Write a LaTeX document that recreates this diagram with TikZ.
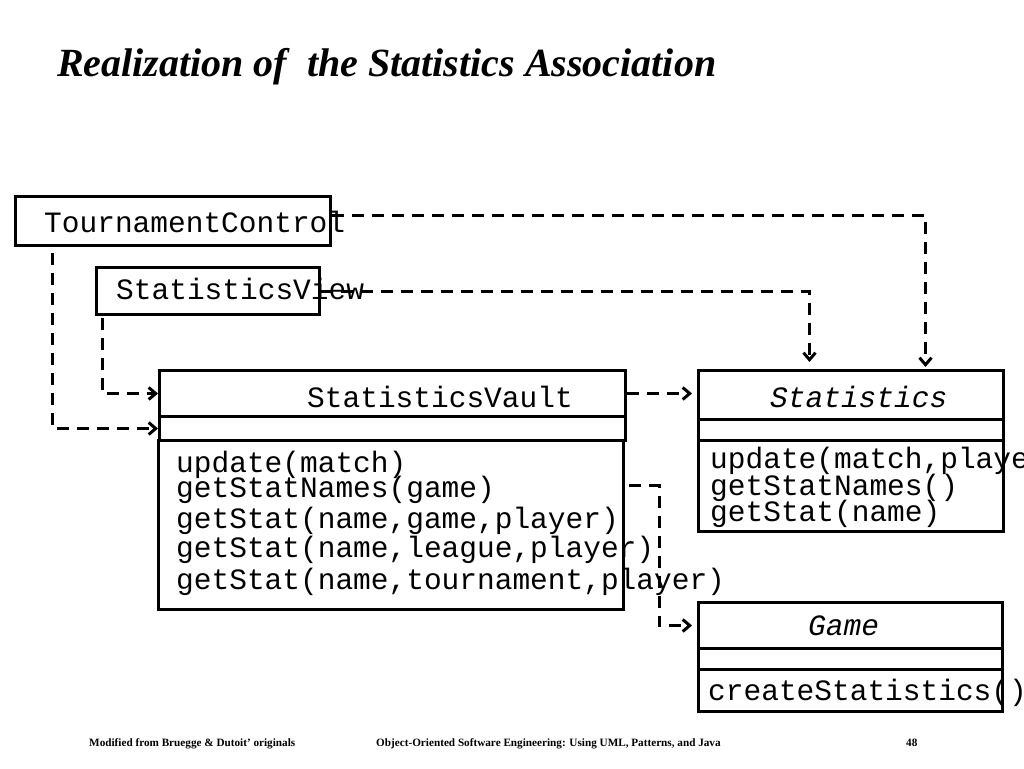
\documentclass[tikz,border=0pt]{standalone}
\usepackage{fontspec}
\usetikzlibrary{arrows.meta,calc}
\setmainfont{Liberation Serif}
\newfontfamily\monof{Liberation Mono}
\tikzset{
  cls/.style={draw=black, line width=3pt, anchor=north west, inner sep=0pt},
  mono/.style={font=\monof\fontsize{29.5}{30}\selectfont, inner sep=0pt, anchor=base west},
  monoit/.style={mono, font=\monof\itshape\fontsize{29.5}{30}\selectfont},
  dep/.style={draw=black, line width=3pt, dash pattern=on 12pt off 8pt, -{Straight Barb[length=7pt,width=12pt]}},
  foot/.style={font=\bfseries\fontsize{11.2}{13}\selectfont, inner sep=0pt, anchor=base west},
}
\begin{document}
\begin{tikzpicture}[x=1pt, y=-1pt]
  \useasboundingbox (0,0) rectangle (1024,768);
  \node[anchor=base west, inner sep=0pt, font=\fontsize{40}{44}\selectfont\bfseries\itshape] (title) at (57,77) {Realization of\ \ the Statistics Association};

  \node[cls, minimum width=315pt, minimum height=49pt] (tc) at (14,195) {};
  \node[mono] (tcL) at (44,232) {TournamentControl};
  \node[cls, minimum width=223pt, minimum height=47pt] (sv) at (95,266) {};
  \node[mono] (svL) at (116,299) {StatisticsView};

  \node[cls, minimum width=466pt, minimum height=46pt] (vault) at (158,369) {};
  \node[cls, minimum width=466pt, minimum height=24pt] (vaultA) at (158,415) {};
  \node[cls, minimum width=465pt, minimum height=169pt] (vaultO) at (157,439) {};
  \node[mono] (vaultL) at (307,407) {StatisticsVault};
  \foreach \y/\t [count=\i] in {472/{update(match)}, 497/{getStatNames(game)}, 528/{getStat(name,game,player)}, 557/{getStat(name,league,player)}, 589/{getStat(name,tournament,player)}}
    \node[mono] (vop\i) at (176,\y) {\t};

  \node[cls, minimum width=305pt, minimum height=49pt] (stat) at (697,369) {};
  \node[cls, minimum width=305pt, minimum height=21pt] (statA) at (697,418) {};
  \node[cls, minimum width=305pt, minimum height=91pt] (statO) at (697,439) {};
  \node[monoit] (statL) at (770,407) {Statistics};
  \foreach \y/\t [count=\i] in {468/{update(match,player)}, 495/{getStatNames()}, 521/{getStat(name)}}
    \node[mono] (sop\i) at (710,\y) {\t};

  \node[cls, minimum width=304pt, minimum height=46pt] (game) at (697,601) {};
  \node[cls, minimum width=304pt, minimum height=21pt] (gameA) at (697,647) {};
  \node[cls, minimum width=304pt, minimum height=42pt] (gameO) at (697,668) {};
  \node[monoit] (gameL) at (808,635) {Game};
  \node[mono] (gop1) at (708,700) {createStatistics()};

  \draw[dep, shorten >=2pt] ([yshift=5.5pt]tc.east) -| ([xshift=74.5pt]stat.north);
  \draw[dep, shorten >=7pt] (sv.east) -| ([xshift=-41.5pt]stat.north);
  \draw[dep, shorten <=6pt] ([xshift=38pt]tc.south west) |- (vaultA.west);
  \draw[dep, shorten <=2pt] ([xshift=7pt]sv.south west) |- (vault.west);
  \draw[dep, shorten >=5pt] (vault.east) -- (vault.east -| stat.west);
  \draw[dep, shorten >=5pt] ([xshift=4pt,yshift=39.5pt]vaultO.east) -| ([xshift=-38pt]game.west) -- (game.west);

  \node[foot] (f1) at (89,746) {Modified from Bruegge \& Dutoit’ originals};
  \node[foot] (f2) at (376,746) {Object-Oriented Software Engineering: Using UML, Patterns, and Java};
  \node[foot] (f3) at (906,746) {48};
\end{tikzpicture}
\end{document}
